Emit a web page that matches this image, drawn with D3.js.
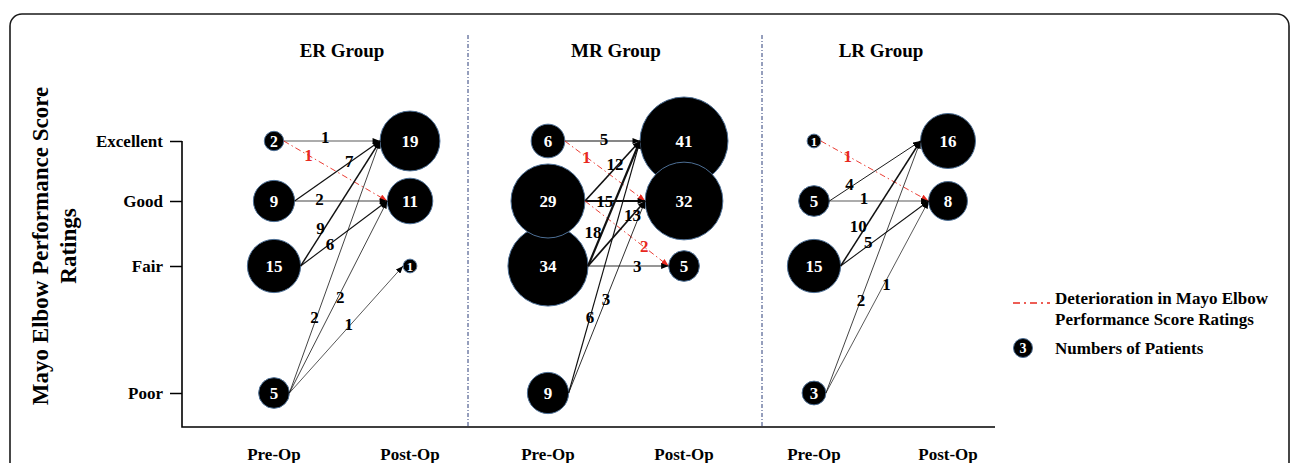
<!DOCTYPE html>
<html>
<head>
<meta charset="utf-8">
<script src="https://cdn.jsdelivr.net/npm/d3@7"></script>
<style>
  html, body { margin: 0; padding: 0; background: #fff; }
  svg { display: block; }
  text { font-family: "Liberation Serif", "Times New Roman", serif; font-weight: bold; }
</style>
</head>
<body>
<svg id="chart" width="1292" height="463"></svg>
<script>
// ---------------- data ----------------
const groups = ["ER Group", "MR Group", "LR Group"];
const ratings = ["Excellent", "Good", "Fair", "Poor"];
const phases = ["Pre-Op", "Post-Op"];

// patients per rating (Excellent, Good, Fair, Poor)
const erPre  = [2, 9, 15, 5];
const erPost = [19, 11, 1, 0];
const mrPre  = [6, 29, 34, 9];
const mrPost = [41, 32, 5, 0];
const lrPre  = [1, 5, 15, 3];
const lrPost = [16, 8, 0, 0];

// flows: [pre rating, post rating, patients]
const erFlows = [
  ["Excellent", "Excellent", 1], ["Excellent", "Good", 1],
  ["Good", "Excellent", 7], ["Good", "Good", 2],
  ["Fair", "Excellent", 9], ["Fair", "Good", 6],
  ["Poor", "Excellent", 2], ["Poor", "Good", 2], ["Poor", "Fair", 1]
];
const mrFlows = [
  ["Excellent", "Excellent", 5], ["Excellent", "Good", 1],
  ["Good", "Excellent", 12], ["Good", "Good", 15], ["Good", "Fair", 2],
  ["Fair", "Excellent", 18], ["Fair", "Good", 13], ["Fair", "Fair", 3],
  ["Poor", "Excellent", 6], ["Poor", "Good", 3]
];
const lrFlows = [
  ["Excellent", "Good", 1],
  ["Good", "Excellent", 4], ["Good", "Good", 1],
  ["Fair", "Excellent", 10], ["Fair", "Good", 5],
  ["Poor", "Excellent", 2], ["Poor", "Good", 1]
];

const legendLabels = ["Deterioration in Mayo Elbow", "Performance Score Ratings", "Numbers of Patients"];
const legendSample = 3;

// ---------------- layout (label placement along each flow: [t, dx, dy]) ----------------
const erLabelPos = [[0.43,0,-4],[0.24,0,0],[0.64,0,-2],[0.27,0,-2],[0.30,-4,0],[0.34,0,0],[0.30,-2,0],[0.50,2,0],[0.54,-2,0]];
const mrLabelPos = [[0.52,0,-2],[0.27,0,0],[0.58,-2,-2],[0.33,0,0],[0.72,-1,-2],[0.27,-9,0],[0.78,0,0],[0.61,0,0],[0.30,0,0],[0.49,0,0]];
const lrLabelPos = [[0.25,0,0],[0.22,0,-4],[0.35,0,-3],[0.32,-8,0],[0.37,-5,0],[0.37,0,0],[0.57,2,0]];

const groupData = [
  { name: groups[0], pre: erPre, post: erPost, flows: erFlows, lp: erLabelPos },
  { name: groups[1], pre: mrPre, post: mrPost, flows: mrFlows, lp: mrLabelPos },
  { name: groups[2], pre: lrPre, post: lrPost, flows: lrFlows, lp: lrLabelPos }
];

// ---------------- scales ----------------
const svg = d3.select("#chart");
const colKey = (g, p) => g + "|" + p;
const x = d3.scaleOrdinal()
  .domain(groups.flatMap(g => phases.map(p => colKey(g, p))))
  .range([274, 410, 548, 684, 814, 948]);
const y = d3.scaleOrdinal().domain(ratings).range([141, 201, 266, 393]);
const r = d3.scaleSqrt().domain([0, 41]).range([0, 44]);
const w = d3.scaleLinear().domain([1, 18]).range([0.7, 2.2]);
const axisBottomY = 427, axisLeftX = 182, axisRightX = 995;
const dividerX = [468, 762];
const RED = "#e8281e";

// ---------------- frame ----------------
svg.append("rect")
  .attr("x", 10).attr("y", 14).attr("width", 1279).attr("height", 480)
  .attr("rx", 12).attr("fill", "none").attr("stroke", "#1a1a1a").attr("stroke-width", 1.6);

// markers
const defs = svg.append("defs");
[["arrBlack", "#000"], ["arrRed", RED]].forEach(([id, c]) => {
  defs.append("marker").attr("id", id)
    .attr("viewBox", "0 0 10 8").attr("refX", 10).attr("refY", 4)
    .attr("markerWidth", 8).attr("markerHeight", 6)
    .attr("markerUnits", "userSpaceOnUse").attr("orient", "auto")
    .append("path").attr("d", "M0,0 L10,4 L0,8 Z").attr("fill", c);
});

// ---------------- axes ----------------
const yAxis = d3.axisLeft(y).tickSize(12).tickSizeOuter(0).tickPadding(7);
const ga = svg.append("g").attr("transform", `translate(${axisLeftX},0)`).call(yAxis);
ga.select(".domain").remove();
ga.selectAll(".tick line").attr("stroke", "#000").attr("stroke-width", 1.5);
ga.selectAll(".tick text").attr("font-size", 17).attr("fill", "#000")
  .attr("font-family", "Liberation Serif, Times New Roman, serif").attr("font-weight", "bold");

svg.append("path")
  .attr("d", `M${axisLeftX},${y("Excellent")} V${axisBottomY} H${axisRightX}`)
  .attr("fill", "none").attr("stroke", "#000").attr("stroke-width", 1.6);

// y title
const yt = svg.append("text").attr("transform", "translate(48,246) rotate(-90)")
  .attr("text-anchor", "middle").attr("font-size", 23).attr("fill", "#000");
yt.append("tspan").attr("x", 0).attr("dy", 0).text("Mayo Elbow Performance Score");
yt.append("tspan").attr("x", 0).attr("dy", 28).text("Ratings");

// dividers
svg.selectAll(".divider").data(dividerX).join("line")
  .attr("x1", d => d).attr("x2", d => d).attr("y1", 35).attr("y2", axisBottomY)
  .attr("stroke", "#2c3e7a").attr("stroke-width", 1).attr("stroke-dasharray", "4,2,1,2");

// ---------------- groups ----------------
groupData.forEach(G => {
  const xPre = x(colKey(G.name, "Pre-Op")), xPost = x(colKey(G.name, "Post-Op"));
  const g = svg.append("g");

  // title
  g.append("text").attr("x", (xPre + xPost) / 2).attr("y", 57)
    .attr("text-anchor", "middle").attr("font-size", 19).attr("fill", "#000").text(G.name);
  // phase labels
  phases.forEach(p => {
    g.append("text").attr("x", x(colKey(G.name, p))).attr("y", 460)
      .attr("text-anchor", "middle").attr("font-size", 17).attr("fill", "#000").text(p);
  });

  const preNodes = ratings.map((k, i) => ({ k, n: G.pre[i], cx: xPre, cy: y(k) })).filter(d => d.n > 0);
  const postNodes = ratings.map((k, i) => ({ k, n: G.post[i], cx: xPost, cy: y(k) })).filter(d => d.n > 0);

  // circles: pre drawn bottom-up so upper ones sit on top; post top-down
  const nodes = preNodes.slice().reverse().concat(postNodes);
  g.selectAll("circle.node").data(nodes).join("circle").attr("class", "node")
    .attr("cx", d => d.cx).attr("cy", d => d.cy).attr("r", d => r(d.n))
    .attr("fill", "#000").attr("stroke", "#4d6f95").attr("stroke-width", 1);

  // flows
  const flows = G.flows.map((f, i) => {
    const fi = G.pre[ratings.indexOf(f[0])], ti = G.post[ratings.indexOf(f[1])];
    const x1 = xPre + r(fi), y1 = y(f[0]);
    const x2 = xPost - r(ti), y2 = y(f[1]);
    const worse = ratings.indexOf(f[1]) > ratings.indexOf(f[0]);
    return { x1, y1, x2, y2, n: f[2], worse, lp: G.lp[i] };
  });
  g.selectAll("line.flow").data(flows).join("line").attr("class", "flow")
    .attr("x1", d => d.x1).attr("y1", d => d.y1).attr("x2", d => d.x2).attr("y2", d => d.y2)
    .attr("stroke", d => d.worse ? RED : "#111")
    .attr("stroke-width", d => d.worse ? 0.9 : w(d.n))
    .attr("stroke-dasharray", d => d.worse ? "6,3,1.5,3" : null)
    .attr("marker-end", d => d.worse ? "url(#arrRed)" : "url(#arrBlack)");

  g.selectAll("text.flowlab").data(flows).join("text").attr("class", "flowlab")
    .attr("x", d => d.x1 + (d.x2 - d.x1) * d.lp[0] + d.lp[1])
    .attr("y", d => d.y1 + (d.y2 - d.y1) * d.lp[0] + d.lp[2])
    .attr("dy", "0.35em").attr("text-anchor", "middle").attr("font-size", 17)
    .attr("fill", d => d.worse ? RED : "#000").text(d => d.n);

  // circle numbers
  g.selectAll("text.nodelab").data(nodes).join("text").attr("class", "nodelab")
    .attr("x", d => d.cx).attr("y", d => d.cy).attr("dy", "0.35em")
    .attr("text-anchor", "middle").attr("fill", "#fff")
    .attr("font-size", d => Math.min(17, 6 + r(d.n))).text(d => d.n);
});

// ---------------- legend ----------------
const lg = svg.append("g");
lg.append("line").attr("x1", 1013).attr("x2", 1050).attr("y1", 303).attr("y2", 303)
  .attr("stroke", RED).attr("stroke-width", 1.5).attr("stroke-dasharray", "7,4,2,4");
lg.append("text").attr("x", 1055).attr("y", 304).attr("font-size", 17).attr("fill", "#000").text(legendLabels[0]);
lg.append("text").attr("x", 1055).attr("y", 325).attr("font-size", 17).attr("fill", "#000").text(legendLabels[1]);
lg.append("circle").attr("cx", 1023).attr("cy", 348).attr("r", r(legendSample) * 0.8)
  .attr("fill", "#000").attr("stroke", "#4d6f95").attr("stroke-width", 1);
lg.append("text").attr("x", 1023).attr("y", 348).attr("dy", "0.35em").attr("text-anchor", "middle")
  .attr("font-size", 14).attr("fill", "#fff").text(legendSample);
lg.append("text").attr("x", 1055).attr("y", 354).attr("font-size", 17).attr("fill", "#000").text(legendLabels[2]);
</script>
</body>
</html>
